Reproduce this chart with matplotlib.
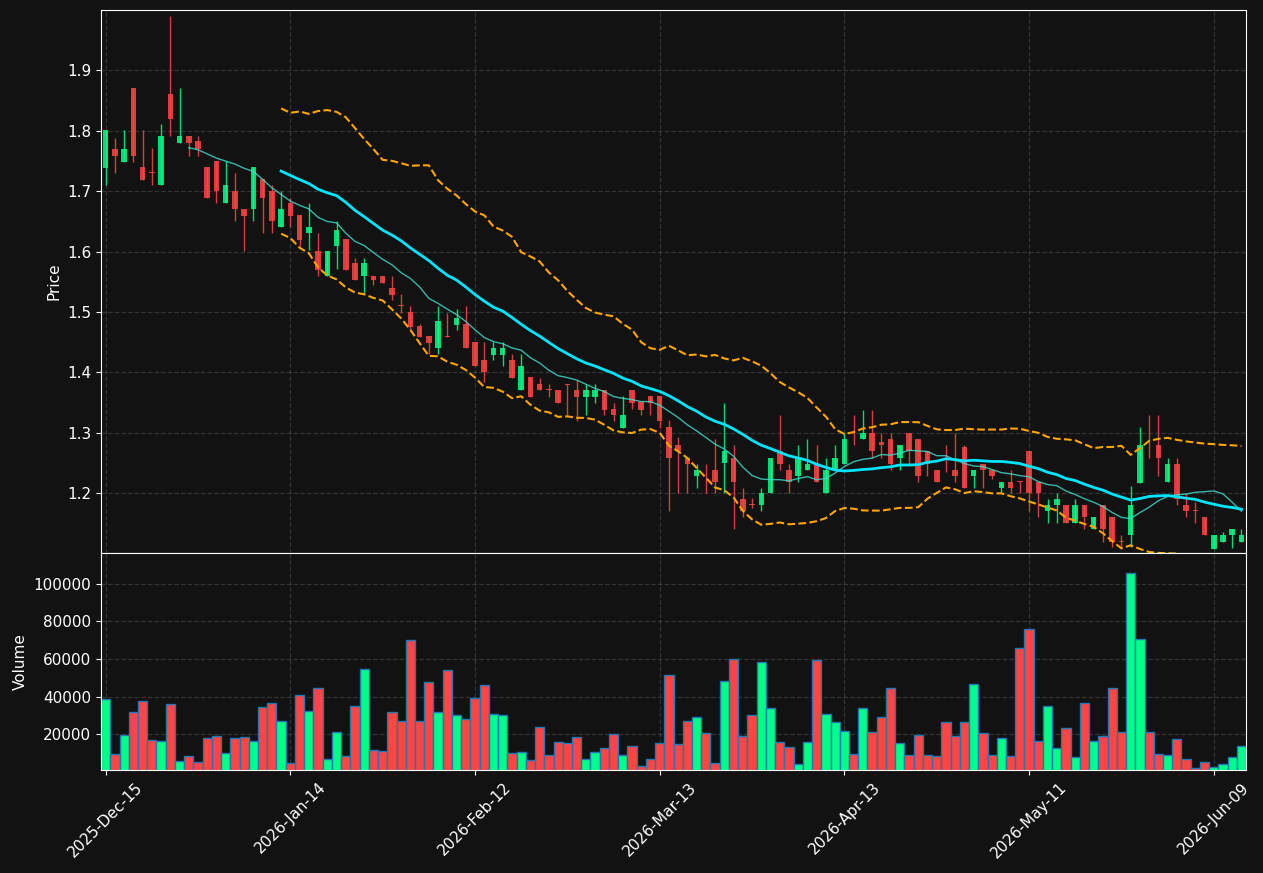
import numpy as np
import pandas as pd
import matplotlib
matplotlib.use('Agg')
from matplotlib import pyplot


opens = [1.739, 1.770, 1.749, 1.871, 1.740, 1.7305, 1.710, 1.861, 1.779, 1.791,
         1.783, 1.740, 1.750, 1.680, 1.700, 1.670, 1.670, 1.720, 1.700, 1.640,
         1.680, 1.661, 1.630, 1.601, 1.559, 1.610, 1.621, 1.581, 1.559, 1.560,
         1.560, 1.540, 1.5105, 1.500, 1.477, 1.460, 1.440, 1.460, 1.479, 1.480,
         1.450, 1.420, 1.429, 1.429, 1.420, 1.370, 1.392, 1.381, 1.3712, 1.371,
         1.380, 1.371, 1.360, 1.360, 1.371, 1.339, 1.308, 1.371, 1.351, 1.361,
         1.361, 1.309, 1.279, 1.259, 1.229, 1.2198, 1.239, 1.250, 1.259, 1.190,
         1.1806, 1.180, 1.200, 1.269, 1.239, 1.229, 1.239, 1.249, 1.200, 1.239,
         1.249, 1.2795, 1.289, 1.299, 1.284, 1.289, 1.259, 1.299, 1.289, 1.269,
         1.239, 1.2795, 1.239, 1.277, 1.229, 1.249, 1.239, 1.209, 1.219, 1.2195,
         1.269, 1.219, 1.170, 1.180, 1.180, 1.151, 1.180, 1.140, 1.180, 1.160,
         1.1195, 1.131, 1.217, 1.2795, 1.279, 1.219, 1.249, 1.180, 1.1705, 1.160,
         1.108, 1.119, 1.130, 1.119]
highs = [1.801, 1.788, 1.801, 1.871, 1.801, 1.771, 1.811, 1.990, 1.870, 1.791,
         1.791, 1.740, 1.750, 1.750, 1.730, 1.670, 1.740, 1.720, 1.710, 1.700,
         1.689, 1.661, 1.680, 1.631, 1.601, 1.650, 1.621, 1.590, 1.590, 1.560,
         1.560, 1.559, 1.529, 1.510, 1.480, 1.460, 1.510, 1.499, 1.505, 1.510,
         1.450, 1.450, 1.450, 1.450, 1.430, 1.430, 1.392, 1.391, 1.381, 1.371,
         1.381, 1.387, 1.381, 1.381, 1.371, 1.350, 1.361, 1.371, 1.351, 1.361,
         1.361, 1.321, 1.293, 1.259, 1.249, 1.249, 1.289, 1.350, 1.279, 1.209,
         1.192, 1.209, 1.259, 1.329, 1.249, 1.279, 1.289, 1.279, 1.259, 1.279,
         1.299, 1.329, 1.338, 1.337, 1.299, 1.299, 1.279, 1.299, 1.289, 1.269,
         1.239, 1.2795, 1.299, 1.279, 1.239, 1.249, 1.239, 1.219, 1.239, 1.2195,
         1.269, 1.219, 1.190, 1.200, 1.180, 1.190, 1.180, 1.160, 1.180, 1.160,
         1.131, 1.212, 1.309, 1.329, 1.329, 1.259, 1.259, 1.200, 1.185, 1.160,
         1.131, 1.135, 1.140, 1.140]
lows = [1.711, 1.730, 1.749, 1.749, 1.719, 1.710, 1.710, 1.791, 1.779, 1.759,
        1.759, 1.689, 1.680, 1.680, 1.650, 1.601, 1.650, 1.631, 1.631, 1.640,
        1.640, 1.609, 1.603, 1.559, 1.559, 1.571, 1.570, 1.553, 1.529, 1.544,
        1.548, 1.520, 1.499, 1.471, 1.459, 1.430, 1.430, 1.459, 1.470, 1.440,
        1.410, 1.384, 1.420, 1.410, 1.390, 1.370, 1.360, 1.371, 1.360, 1.350,
        1.329, 1.319, 1.329, 1.350, 1.329, 1.319, 1.308, 1.339, 1.329, 1.329,
        1.308, 1.170, 1.200, 1.200, 1.209, 1.200, 1.200, 1.200, 1.140, 1.160,
        1.175, 1.170, 1.200, 1.239, 1.200, 1.219, 1.239, 1.219, 1.200, 1.239,
        1.249, 1.279, 1.289, 1.259, 1.259, 1.239, 1.239, 1.249, 1.219, 1.229,
        1.219, 1.235, 1.219, 1.209, 1.209, 1.209, 1.224, 1.200, 1.200, 1.200,
        1.170, 1.160, 1.151, 1.151, 1.151, 1.151, 1.140, 1.140, 1.119, 1.111,
        1.111, 1.111, 1.217, 1.259, 1.229, 1.219, 1.180, 1.160, 1.151, 1.130,
        1.108, 1.119, 1.109, 1.119]
closes = [1.801, 1.759, 1.770, 1.759, 1.719, 1.7295, 1.791, 1.820, 1.791, 1.779,
          1.769, 1.689, 1.700, 1.710, 1.670, 1.659, 1.740, 1.689, 1.650, 1.670,
          1.659, 1.619, 1.641, 1.570, 1.601, 1.636, 1.570, 1.553, 1.581, 1.553,
          1.548, 1.528, 1.510, 1.475, 1.459, 1.449, 1.485, 1.459, 1.490, 1.440,
          1.410, 1.400, 1.441, 1.441, 1.390, 1.411, 1.360, 1.371, 1.3708, 1.350,
          1.379, 1.360, 1.371, 1.371, 1.338, 1.329, 1.330, 1.350, 1.338, 1.350,
          1.319, 1.259, 1.269, 1.249, 1.239, 1.2194, 1.219, 1.269, 1.219, 1.170,
          1.1802, 1.200, 1.259, 1.249, 1.219, 1.259, 1.249, 1.219, 1.239, 1.259,
          1.289, 1.279, 1.299, 1.269, 1.279, 1.249, 1.279, 1.269, 1.229, 1.249,
          1.219, 1.279, 1.229, 1.209, 1.239, 1.239, 1.229, 1.219, 1.209, 1.219,
          1.200, 1.200, 1.180, 1.190, 1.151, 1.180, 1.160, 1.160, 1.140, 1.119,
          1.119, 1.180, 1.279, 1.279, 1.259, 1.249, 1.190, 1.170, 1.170, 1.130,
          1.131, 1.131, 1.140, 1.131]
volumes = [38670, 9870, 19470, 31730, 37600, 16800, 16270, 36000, 6130, 8800,
           5600, 17870, 18930, 10400, 17870, 18400, 16270, 34400, 36540, 26930,
           5070, 40800, 32270, 44540, 7200, 21070, 8800, 34940, 54670, 12000,
           11470, 31730, 26930, 70140, 26930, 47740, 31730, 54140, 30130, 28000,
           39200, 46140, 30670, 30130, 10400, 10930, 6670, 23730, 9330, 15730,
           15200, 18400, 7200, 10930, 13070, 20000, 9330, 14130, 3470, 7200,
           15200, 51470, 14670, 26930, 29070, 20530, 5070, 48270, 60000, 18930,
           30130, 58400, 33870, 15730, 13600, 4530, 15730, 59470, 30670, 26400,
           21600, 9870, 33870, 21070, 29070, 44540, 15200, 9330, 19470, 9330,
           8800, 26400, 18930, 26400, 46670, 20530, 9330, 17870, 8800, 65870,
           76000, 16270, 34940, 13070, 23200, 8270, 36540, 16270, 18930, 44540,
           21070, 105700, 70670, 21070, 9870, 9330, 17330, 7200, 2400, 5600,
           2930, 4530, 8270, 14130]

tickIndex = [0, 20, 40, 60, 80, 100, 120]
tickLabels = ['2025-Dec-15', '2026-Jan-14', '2026-Feb-12', '2026-Mar-13',
              '2026-Apr-13', '2026-May-11', '2026-Jun-09']
priceTicks = [1.2, 1.3, 1.4, 1.5, 1.6, 1.7, 1.8, 1.9]
volumeTicks = [20000, 40000, 60000, 80000, 100000]

background = '#121212'
upColor = '#00ff88'
downColor = '#ff4444'


data = pd.DataFrame({'open': opens, 'high': highs, 'low': lows,
                     'close': closes, 'volume': volumes})
x = np.arange(len(data))
ma10 = data['close'].rolling(10).mean()
ma20 = data['close'].rolling(20).mean()
std20 = data['close'].rolling(20).std()
upper = ma20 + 2 * std20
lower = ma20 - 2 * std20

up = data['close'] >= data['open']
colors = np.where(up, upColor, downColor)

figure = pyplot.figure(figsize=(12.63, 8.73), dpi=100, facecolor=background)
axis1 = figure.add_axes([0.0800, 0.3666, 0.9066, 0.6220])
axis2 = figure.add_axes([0.0800, 0.1180, 0.9066, 0.2486], sharex=axis1)

for axis in (axis1, axis2):
	axis.set_facecolor(background)
	for spine in axis.spines.values():
		spine.set_color('white')
	axis.tick_params(colors='white', labelsize=11)
	axis.grid(True, linestyle='--', color='gray', alpha=0.3, linewidth=0.9)
	axis.set_axisbelow(True)

# candles
axis1.vlines(x, data['low'], data['high'], colors=colors, linewidth=1, alpha=0.85)
bodyBottom = np.minimum(data['open'], data['close'])
bodyHeight = np.maximum((data['close'] - data['open']).abs(), 0.0015)
axis1.bar(x, bodyHeight, bottom=bodyBottom, width=0.6, color=colors, alpha=0.85)

axis1.plot(x, ma10, color='#40e0d0', linewidth=1, alpha=0.8)
axis1.plot(x, ma20, color='#00e5ff', linewidth=2)
axis1.plot(x, upper, color='orange', linewidth=1.5, linestyle='--')
axis1.plot(x, lower, color='orange', linewidth=1.5, linestyle='--')

axis1.set_ylim(1.101, 2.0)
axis1.set_yticks(priceTicks)
axis1.set_ylabel('Price', color='white', fontsize=11)
pyplot.setp(axis1.get_xticklabels(), visible=False)
axis1.tick_params(axis='x', length=0)

# volume
axis2.bar(x, data['volume'], width=1.0, color=colors, edgecolor='#1f77b4', linewidth=1)
axis2.set_ylim(1150, 116200)
axis2.set_yticks(volumeTicks)
axis2.set_ylabel('Volume', color='white', fontsize=11)

axis2.set_xlim(-0.5, len(data) - 0.5)
axis2.set_xticks(tickIndex)
axis2.set_xticklabels(tickLabels, rotation=45)

pyplot.savefig('out.png', dpi=100, facecolor=background)
